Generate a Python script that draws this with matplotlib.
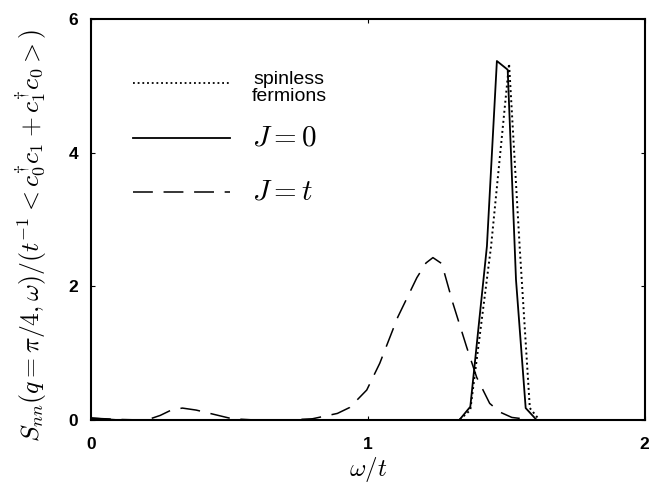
import matplotlib
matplotlib.use("Agg")
import matplotlib.pyplot as plt

plt.rcParams["mathtext.fontset"] = "cm"

# Spinless fermions (dotted)
x_sf = [0.0, 1.30, 1.33, 1.37, 1.445, 1.51, 1.549, 1.585, 1.62, 2.0]
y_sf = [0.0, 0.0, 0.0, 0.15, 2.6, 5.33, 2.54, 0.18, 0.0, 0.0]

# J = 0 (solid)
x_j0 = [0.0, 0.03, 0.10, 1.30, 1.33, 1.37, 1.43, 1.466, 1.505, 1.535, 1.57, 1.61, 2.0]
y_j0 = [0.03, 0.02, 0.0, 0.0, 0.0, 0.2, 2.6, 5.37, 5.24, 2.1, 0.18, 0.0, 0.0]

# J = t (dashed)
x_jt = [0.0, 0.10, 0.20, 0.25, 0.29, 0.33, 0.38, 0.44, 0.51, 0.60, 0.70, 0.80,
        0.89, 0.935, 0.996, 1.043, 1.108, 1.177, 1.21, 1.235, 1.267, 1.307,
        1.357, 1.393, 1.44, 1.477, 1.52, 1.60, 2.0]
y_jt = [0.03, 0.01, 0.0, 0.07, 0.15, 0.18, 0.15, 0.09, 0.02, 0.0, 0.0, 0.02,
        0.10, 0.19, 0.45, 0.85, 1.54, 2.13, 2.35, 2.43, 2.34, 1.75,
        1.09, 0.64, 0.25, 0.12, 0.04, 0.0, 0.0]

x_ticks = [0, 1, 2]
y_ticks = [0, 2, 4, 6]

fig = plt.figure(figsize=(6.64, 4.84), dpi=100)
ax = fig.add_axes([0.137, 0.132, 0.834, 0.829])

dotted = (0, (1.0, 1.6))
dashed = (0, (13, 7))

ax.plot(x_sf, y_sf, color="black", lw=1.4, linestyle=dotted)
ax.plot(x_j0, y_j0, color="black", lw=1.3, linestyle="-")
ax.plot(x_jt, y_jt, color="black", lw=1.1, linestyle=dashed)

ax.set_xlim(0, 2)
ax.set_ylim(0, 6)
ax.set_xticks(x_ticks)
ax.set_yticks(y_ticks)
ax.set_xticklabels([str(v) for v in x_ticks])
ax.set_yticklabels([str(v) for v in y_ticks])

for lab in ax.get_xticklabels() + ax.get_yticklabels():
    lab.set_fontfamily("Liberation Sans")
    lab.set_fontweight("bold")
    lab.set_fontsize(12.5)

ax.tick_params(axis="both", direction="in", length=3, width=0.8,
               top=True, right=True)
ax.tick_params(axis="x", pad=12)
ax.tick_params(axis="y", pad=9)

for sp in ax.spines.values():
    sp.set_linewidth(1.5)

ax.set_xlabel(r"$\omega/t$", fontsize=18, labelpad=2)
ax.set_ylabel(r"$S_{nn}(q=\pi/4,\omega)/(t^{-1} < c_0^{\dagger}c_1 + c_1^{\dagger}c_0 >)$",
              fontsize=18.5)
ax.yaxis.set_label_coords(-0.078, 0.46)

# Key drawn inside the axes
def ax_x(px):
    return (px - 91) / 554

def ax_y(py):
    return (420 - py) / (420 - 19)

def key_line(y, style, lw):
    ax.plot([ax_x(133), ax_x(230)], [y, y], color="black", lw=lw, linestyle=style,
            transform=ax.transAxes, clip_on=False)

key_line(ax_y(83), dotted, 1.3)
key_line(ax_y(138), "-", 1.3)
key_line(ax_y(192), dashed, 1.1)

ax.text(ax_x(289), ax_y(88), "spinless\nfermions", transform=ax.transAxes,
        ha="center", va="center", fontsize=14, family="Liberation Sans",
        linespacing=1.05)
ax.text(ax_x(252), ax_y(138), r"$J=0$", transform=ax.transAxes,
        ha="left", va="center", fontsize=21)
ax.text(ax_x(252), ax_y(192), r"$J=t$", transform=ax.transAxes,
        ha="left", va="center", fontsize=21)

fig.savefig("out.png", dpi=100)
